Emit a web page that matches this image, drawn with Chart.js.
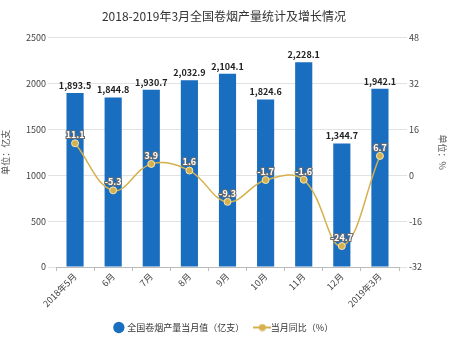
<!DOCTYPE html>
<html lang="zh">
<head>
<meta charset="UTF-8">
<title>2018-2019年3月全国卷烟产量统计及增长情况</title>
<script src="https://cdn.jsdelivr.net/npm/chart.js"></script>
<style>
  html, body { margin: 0; padding: 0; background: #fff; }
  #wrap { width: 450px; height: 346px; }
</style>
</head>
<body>
<div id="wrap"><canvas id="chart"></canvas></div>
<script>
// data
const months = ["2018年5月", "6月", "7月", "8月", "9月", "10月", "11月", "12月", "2019年3月"];
const output = [1893.5, 1844.8, 1930.7, 2032.9, 2104.1, 1824.6, 2228.1, 1344.7, 1942.1];
const growth = [11.1, -5.3, 3.9, 1.6, -9.3, -1.7, -1.6, -24.7, 6.7];

const FONT = "'Noto Sans CJK SC', 'Noto Sans', sans-serif";
const BLUE = "#1a6ec0";
const GOLD = "#d6b04c";

// legend icon for the line series: short line with a dot
const lineIcon = document.createElement("canvas");
lineIcon.width = 18;
lineIcon.height = 8;
(function () {
    const c = lineIcon.getContext("2d");
    c.strokeStyle = GOLD;
    c.lineWidth = 2;
    c.beginPath();
    c.moveTo(0, 4);
    c.lineTo(18, 4);
    c.stroke();
    c.fillStyle = GOLD;
    c.beginPath();
    c.arc(9, 4, 3.5, 0, Math.PI * 2);
    c.fill();
})();

// draws the value labels on bars and points
const valueLabels = {
    id: "valueLabels",
    afterDatasetsDraw(chart) {
        const ctx = chart.ctx;
        ctx.save();
        ctx.textAlign = "center";
        ctx.textBaseline = "bottom";

        chart.getDatasetMeta(0).data.forEach((bar, i) => {
            ctx.font = "bold 9px " + FONT;
            ctx.fillStyle = "#222";
            ctx.fillText(output[i].toLocaleString("en-US", { minimumFractionDigits: 1 }), bar.x, bar.y - 3);
        });

        chart.getDatasetMeta(1).data.forEach((pt, i) => {
            ctx.font = "bold 9px " + FONT;
            ctx.lineWidth = 2;
            ctx.strokeStyle = "#6b6b6b";
            ctx.strokeText(growth[i].toFixed(1), pt.x, pt.y - 4);
            ctx.fillStyle = "#fff";
            ctx.fillText(growth[i].toFixed(1), pt.x, pt.y - 4);
        });
        ctx.restore();
    }
};

new Chart(document.getElementById("chart"), {
    data: {
        labels: months,
        datasets: [
            {
                type: "bar",
                label: "全国卷烟产量当月值（亿支）",
                data: output,
                backgroundColor: BLUE,
                yAxisID: "y",
                barPercentage: 0.9,
                categoryPercentage: 0.5,
                order: 2
            },
            {
                type: "line",
                label: "当月同比（%）",
                data: growth,
                borderColor: GOLD,
                backgroundColor: GOLD,
                borderWidth: 1.5,
                pointRadius: 3.5,
                pointBorderColor: "#f3e6b8",
                pointBorderWidth: 1,
                tension: 0.4,
                yAxisID: "y1",
                order: 1
            }
        ]
    },
    options: {
        responsive: true,
        maintainAspectRatio: false,
        animation: false,
        layout: { padding: { top: 2, bottom: 4, left: 0, right: 2 } },
        plugins: {
            title: {
                display: true,
                text: "2018-2019年3月全国卷烟产量统计及增长情况",
                color: "#333",
                font: { family: FONT, size: 12, weight: "normal" },
                padding: { top: 7, bottom: 14 }
            },
            legend: {
                position: "bottom",
                labels: {
                    usePointStyle: true,
                    boxWidth: 8,
                    boxHeight: 8,
                    padding: 14,
                    color: "#333",
                    font: { family: FONT, size: 9 },
                    generateLabels(chart) {
                        return chart.data.datasets.map((ds, i) => ({
                            text: ds.label,
                            datasetIndex: i,
                            fillStyle: i === 0 ? BLUE : GOLD,
                            strokeStyle: i === 0 ? BLUE : GOLD,
                            lineWidth: 0,
                            fontColor: "#333",
                            pointStyle: i === 0 ? "circle" : lineIcon,
                            hidden: false
                        }));
                    }
                }
            },
            tooltip: { enabled: false }
        },
        scales: {
            x: {
                grid: { display: true, drawOnChartArea: false, tickLength: 4, color: "#bbb" },
                border: { color: "#bbb" },
                ticks: {
                    color: "#444",
                    font: { family: FONT, size: 9 },
                    maxRotation: 45,
                    minRotation: 45,
                    padding: 0
                },
                afterFit(scale) { scale.height = 42; }
            },
            y: {
                position: "left",
                min: 0,
                max: 2500,
                ticks: {
                    stepSize: 500,
                    color: "#444",
                    font: { family: FONT, size: 9 },
                    padding: 2,
                    callback: (v) => String(v)
                },
                grid: { color: "#e2e2e2", tickLength: 8 },
                border: { display: false },
                title: {
                    display: true,
                    text: "单位：亿支",
                    color: "#555",
                    font: { family: FONT, size: 9 },
                    padding: 0
                },
                afterFit(scale) { scale.width = 56; }
            },
            y1: {
                position: "right",
                min: -32,
                max: 48,
                ticks: { stepSize: 16, color: "#444", font: { family: FONT, size: 9 }, padding: 2 },
                grid: { drawOnChartArea: false, color: "#e2e2e2", tickLength: 8 },
                border: { display: false },
                title: {
                    display: true,
                    text: "单位：%",
                    color: "#555",
                    font: { family: FONT, size: 9 },
                    padding: 0
                },
                afterFit(scale) { scale.width = 49; }
            }
        }
    },
    plugins: [valueLabels]
});
</script>
</body>
</html>
